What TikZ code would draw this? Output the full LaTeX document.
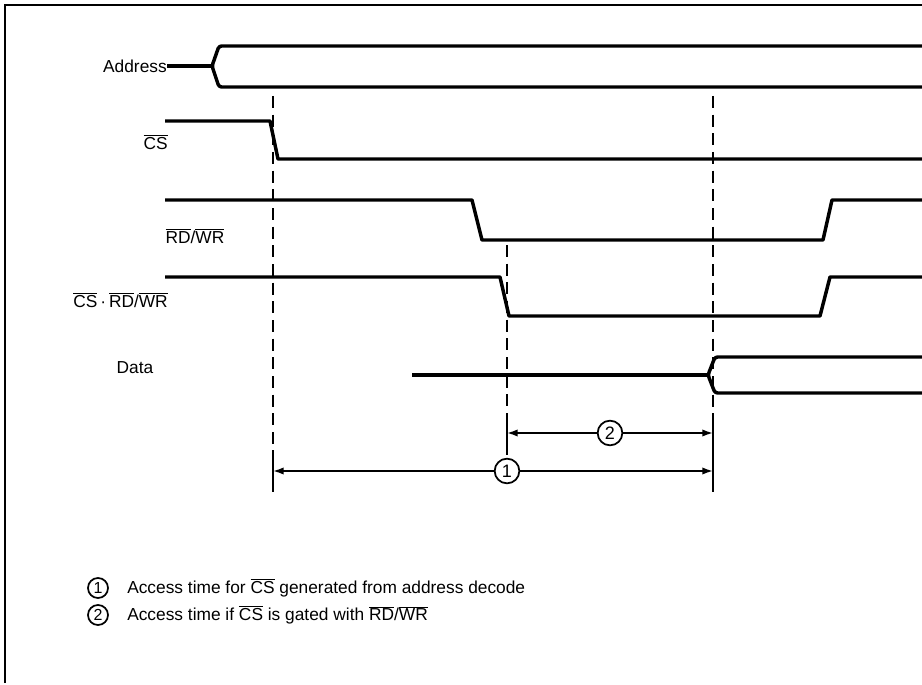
\documentclass[tikz,border=0pt]{standalone}
\usepackage{fontspec}
\setmainfont{Liberation Sans}
\usetikzlibrary{arrows.meta, calc}
\newcommand{\ov}[1]{$\overline{\mbox{#1}}$}

\begin{document}
\begin{tikzpicture}[x=0.75pt, y=-0.75pt, >={Latex[length=8pt,width=5.5pt]},
    sig/.style={line width=2.6pt, line join=round},
    guide/.style={line width=1.7pt, dash pattern=on 9pt off 5pt},
    lbl/.style={font=\fontsize{13}{15}\selectfont, inner sep=0pt},
    num/.style={draw, circle, line width=1.3pt, inner sep=0pt, minimum size=18.5pt, font=\fontsize{13.5}{15}\selectfont},
    key/.style={num, minimum size=15pt, font=\fontsize{12}{14}\selectfont},
    meas/.style={line width=1.3pt}]
  \useasboundingbox (0,0) rectangle (922,685);
  \draw[line width=2.2pt] (5,683) -- (5,5) -- (922,5);

  % signal names
  \node[lbl, anchor=east] (addr) at (167,66) {Address};
  \node[lbl, anchor=east] (cs) at (168,142) {\ov{CS}};
  \node[lbl] (rdwr) at (195,236) {\ov{RD}/\ov{WR}};
  \node[lbl, anchor=east] (gated) at (168,300) {\ov{CS}\,\textperiodcentered\,\ov{RD}/\ov{WR}};
  \node[lbl] (data) at (135,368) {Data};

  % waveforms
  \draw[sig] (addr.east) -- (212,66);
  \draw[sig, rounded corners=2pt] (922,46) -- (219,46) -- (212,66) -- (219,87) -- (922,87);
  \draw[sig] (165,121) -- (270,121) -- (278,159) -- (922,159);
  \draw[sig] (165,200) -- (472,200) -- (482,240) -- (823,240) -- (832,200) -- (922,200);
  \draw[sig] (165,277) -- (500,277) -- (509,316) -- (820,316) -- (830,277) -- (922,277);
  \draw[sig] (412,375) -- (708,375);
  \draw[sig, rounded corners=2pt] (922,357) -- (715,357) -- (708,375) -- (715,393) -- (922,393);

  % timing marks
  \coordinate (ta) at (273,0);
  \coordinate (tb) at (507,0);
  \coordinate (tc) at (713,0);
  \draw[guide] (273,96) -- (273,450);
  \draw[guide] (507,245) -- (507,415);
  \draw[guide] (713,96) -- (713,415);
  \draw[meas] (273,450) -- (273,492);
  \draw[meas] (507,415) -- (507,455);
  \draw[meas] (713,415) -- (713,492);

  % access times
  \node[num] (n2) at (610,433) {2};
  \draw[meas, ->] (n2) -- (tb |- n2);
  \draw[meas, ->] (n2) -- (tc |- n2);
  \node[num] (n1) at (507,471) {1};
  \draw[meas, ->] (n1) -- (ta |- n1);
  \draw[meas, ->] (n1) -- (tc |- n1);

  % legend
  \node[key] (k1) at (98,588) {1};
  \node[lbl, anchor=west] (k1t) at (127,588) {Access time for \ov{CS} generated from address decode};
  \node[key] (k2) at (98,615) {2};
  \node[lbl, anchor=west] (k2t) at (127,615) {Access time if \ov{CS} is gated with \ov{RD}/\ov{WR}};
\end{tikzpicture}
\end{document}
